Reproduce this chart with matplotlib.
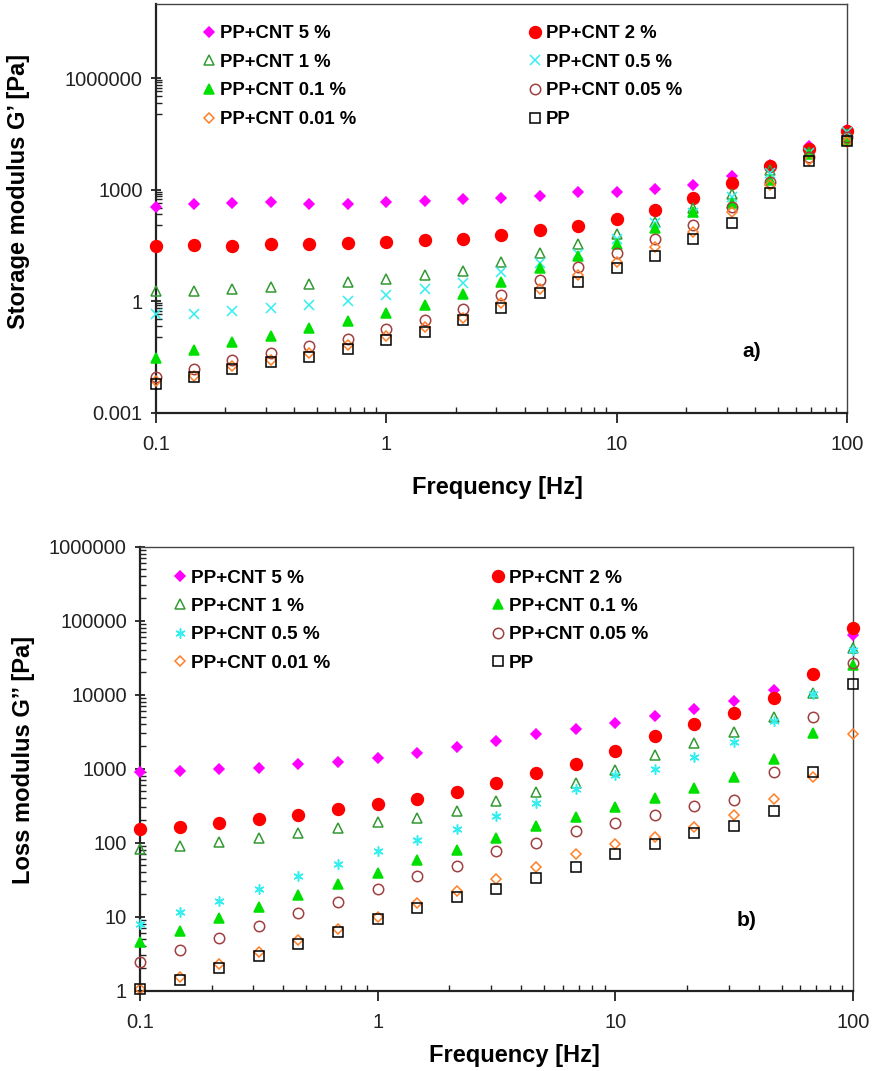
import numpy as np
import matplotlib
matplotlib.use("Agg")
import matplotlib.pyplot as plt
from matplotlib.ticker import FixedLocator, NullFormatter

plt.rcParams['font.family'] = ['Liberation Sans', 'DejaVu Sans']

# Frecuencias (Hz)
freq = [0.1, 0.147, 0.215, 0.316, 0.464, 0.681, 1.0, 1.47, 2.15, 3.16,
        4.64, 6.81, 10.0, 14.7, 21.5, 31.6, 46.4, 68.1, 100.0]

# Modulo de almacenamiento G' (Pa)
g1_cnt5 = [347, 427, 455, 482, 427, 427, 465, 500, 560, 620, 680, 850, 870,
           1050, 1380, 2350, 4760, 15000, 39500]
g1_cnt2 = [31, 32.6, 31, 34, 36, 37, 39, 45, 49, 62, 82, 105, 162, 295, 590,
           1500, 4360, 12800, 38000]
g1_cnt1 = [1.9, 1.9, 2.1, 2.5, 2.9, 3.4, 3.9, 5.1, 6.5, 11.2, 20, 34, 64, 138,
           315, 795, 3320, 10300, 32000]
g1_cnt05 = [0.46, 0.46, 0.56, 0.65, 0.8, 1.05, 1.5, 2.2, 3.2, 6.2, 10.9, 18.6,
            49, 126, 235, 645, 2760, 9500, 35500]
g1_cnt01 = [0.031, 0.05, 0.08, 0.12, 0.19, 0.29, 0.48, 0.8, 1.6, 3.4, 8, 17,
            36, 93, 250, 435, 1800, 9000, 22500]
g1_cnt005 = [0.0095, 0.015, 0.026, 0.041, 0.065, 0.10, 0.18, 0.32, 0.63, 1.5,
             3.75, 8.5, 20, 49, 112, 347, 1620, 7600, 26000]
g1_cnt001 = [0.0071, 0.010, 0.018, 0.027, 0.042, 0.068, 0.118, 0.2, 0.35,
             0.89, 2.1, 5.1, 11.6, 29, 74, 255, 1330, 6200, 19200]
g1_pp = [0.006, 0.0095, 0.0154, 0.023, 0.032, 0.053, 0.089, 0.154, 0.32, 0.65,
         1.65, 3.25, 8, 17, 49, 132, 820, 5850, 20000]

# Modulo de perdida G'' (Pa)
g2_cnt5 = [895, 940, 995, 1030, 1150, 1240, 1380, 1650, 1990, 2390, 2900, 3390,
           4080, 5220, 6400, 8100, 11500, 19000, 64000]
g2_cnt2 = [152, 162, 182, 208, 240, 282, 333, 390, 490, 645, 885, 1150, 1740,
           2770, 4000, 5600, 9150, 19000, 79000]
g2_cnt1 = [81, 89, 102, 115, 134, 156, 190, 214, 270, 360, 480, 640, 960, 1540,
           2240, 3100, 5000, 10500, 42500]
g2_cnt05 = [7.9, 11.7, 16.5, 24, 35.5, 51.5, 76, 109, 155, 230, 340, 525, 820,
            1000, 1450, 2300, 4450, 10100, 40000]
g2_cnt01 = [4.5, 6.5, 9.5, 13.6, 19.6, 27.7, 39, 58, 80, 115, 170, 225, 300,
            400, 545, 760, 1340, 3080, 25000]
g2_cnt005 = [2.47, 3.55, 5.2, 7.56, 11.1, 16, 23.5, 35, 49, 76, 100, 145, 182,
             236, 316, 380, 890, 4950, 27000]
g2_cnt001 = [1.07, 1.55, 2.27, 3.36, 4.84, 6.8, 10, 15.5, 22.3, 32, 47.5, 70,
             95, 120, 165, 236, 390, 780, 2900]
g2_pp = [1.04, 1.40, 2.0, 2.95, 4.24, 6.3, 9.2, 13.2, 18.3, 24, 33, 46.5, 69.5,
         95, 134, 168, 270, 890, 13900]

labels = ['PP+CNT 5 %', 'PP+CNT 2 %', 'PP+CNT 1 %', 'PP+CNT 0.5 %',
          'PP+CNT 0.1 %', 'PP+CNT 0.05 %', 'PP+CNT 0.01 %', 'PP']

x_ticks = [0.1, 1, 10, 100]
x_ticklabels = ['0.1', '1', '10', '100']
y1_ticks = [1e-3, 1, 1e3, 1e6]
y1_ticklabels = ['0.001', '1', '1000', '1000000']
y2_ticks = [1, 10, 100, 1e3, 1e4, 1e5, 1e6]
y2_ticklabels = ['1', '10', '100', '1000', '10000', '100000', '1000000']

# estilo de cada serie: marcador, color, relleno, tamaño
estilos = [
    dict(marker='D', color='#ff00ff', fill=True, ms=5.3),
    dict(marker='o', color='#ff0000', fill=True, ms=8.5),
    dict(marker='^', color='#339933', fill=False, ms=7.5),
    dict(marker='x', color='#33eeee', fill=False, ms=7.2),
    dict(marker='^', color='#00e000', fill=True, ms=7.8),
    dict(marker='o', color='#a04040', fill=False, ms=7.5),
    dict(marker='D', color='#ff7f27', fill=False, ms=4.6),
    dict(marker='s', color='#000000', fill=False, ms=7.2),
]


def dibujar(ax, series, asterisco=False):
    handles = []
    for i, (y, est) in enumerate(zip(series, estilos)):
        marker = est['marker']
        if asterisco and i == 3:
            marker = (6, 2, 0)
        fc = est['color'] if est['fill'] else 'none'
        h, = ax.plot(freq, y, linestyle='none', marker=marker,
                     markersize=est['ms'], markerfacecolor=fc,
                     markeredgecolor=est['color'], markeredgewidth=1.1,
                     clip_on=False, label=labels[i], zorder=3 + i)
        handles.append(h)
    return handles


def formato(ax):
    ax.set_xscale('log')
    ax.set_yscale('log')
    ax.set_xlim(0.1, 100)
    ax.xaxis.set_major_locator(FixedLocator(x_ticks))
    ax.set_xticklabels(x_ticklabels)
    for s in ['left', 'bottom']:
        ax.spines[s].set_linewidth(1.6)
        ax.spines[s].set_color('#222222')
    for s in ['top', 'right']:
        ax.spines[s].set_linewidth(1.0)
        ax.spines[s].set_color('#444444')
    ax.tick_params(which='major', length=7, width=1.3, direction='inout',
                   labelsize=14.5, pad=6, colors='#222222')
    ax.tick_params(which='minor', length=4, width=1.0, direction='in',
                   colors='#222222')
    ax.tick_params(axis='x', which='major', direction='out', pad=9)
    ax.xaxis.set_minor_formatter(NullFormatter())
    ax.yaxis.set_minor_formatter(NullFormatter())


fig = plt.figure(figsize=(8.75, 10.71), dpi=100)

# ---- a) G'
ax1 = fig.add_axes([0.178, 0.6144, 0.790, 0.382])
h1 = dibujar(ax1, [g1_cnt5, g1_cnt2, g1_cnt1, g1_cnt05, g1_cnt01, g1_cnt005,
                   g1_cnt001, g1_pp])
formato(ax1)
ax1.set_ylim(1e-3, 1e8)
ax1.yaxis.set_major_locator(FixedLocator(y1_ticks))
ax1.set_yticklabels(y1_ticklabels)
minors = [b * k * 1000 / 9 for b in y1_ticks for k in range(1, 9)]
ax1.yaxis.set_minor_locator(FixedLocator(minors))
orden1 = [0, 2, 4, 6, 1, 3, 5, 7]
ax1.legend([h1[i] for i in orden1], [labels[i] for i in orden1], ncol=2,
           loc='upper left', bbox_to_anchor=(0.068, 0.948), frameon=False,
           prop={'weight': 'bold', 'size': 13.3}, handlelength=0.7,
           handletextpad=0.25, columnspacing=9.3, labelspacing=0.63,
           borderpad=0, borderaxespad=0)
ax1.text(0.862, 0.15, 'a)', transform=ax1.transAxes, fontsize=15,
         fontweight='bold', ha='center', va='center')
ax1.set_xlabel('Frequency [Hz]', fontsize=17, fontweight='bold',
               va='center')
ax1.xaxis.set_label_coords(0.495, -0.181)
ax1.set_ylabel('Storage modulus G\u2019 [Pa]', fontsize=17,
               fontweight='bold', va='center')
ax1.yaxis.set_label_coords(-0.199, 0.542)

# ---- b) G''
ax2 = fig.add_axes([0.160, 0.075, 0.815, 0.4146])
h2 = dibujar(ax2, [g2_cnt5, g2_cnt2, g2_cnt1, g2_cnt05, g2_cnt01, g2_cnt005,
                   g2_cnt001, g2_pp], asterisco=True)
formato(ax2)
ax2.set_ylim(1, 1e6)
ax2.yaxis.set_major_locator(FixedLocator(y2_ticks))
ax2.set_yticklabels(y2_ticklabels)
ax2.yaxis.set_minor_locator(FixedLocator(
    [b * k for b in y2_ticks[:-1] for k in range(2, 10)]))
orden2 = [0, 2, 3, 6, 1, 4, 5, 7]
ax2.legend([h2[i] for i in orden2], [labels[i] for i in orden2], ncol=2,
           loc='upper left', bbox_to_anchor=(0.047, 0.949), frameon=False,
           prop={'weight': 'bold', 'size': 13.6}, handlelength=0.7,
           handletextpad=0.25, columnspacing=8.5, labelspacing=0.59,
           borderpad=0, borderaxespad=0)
ax2.text(0.851, 0.159, 'b)', transform=ax2.transAxes, fontsize=15,
         fontweight='bold', ha='center', va='center')
ax2.set_xlabel('Frequency [Hz]', fontsize=17, fontweight='bold',
               va='center')
ax2.xaxis.set_label_coords(0.525, -0.145)
ax2.set_ylabel('Loss modulus G\u2019\u2019 [Pa]', fontsize=17,
               fontweight='bold', va='center')
ax2.yaxis.set_label_coords(-0.163, 0.52)

fig.savefig('out.png', dpi=100)
